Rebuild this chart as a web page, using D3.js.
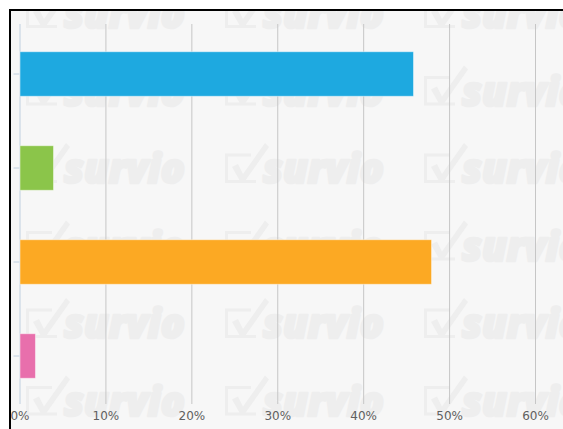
<!DOCTYPE html>
<html>
<head>
<meta charset="utf-8">
<script src="https://cdn.jsdelivr.net/npm/d3@7"></script>
<style>
  html, body { margin: 0; padding: 0; background: #fff; }
  svg { display: block; }
</style>
</head>
<body>
<div id="chart"></div>
<script>
// Answer options and their share of responses (%)
const categories = ["Option 1", "Option 2", "Option 3", "Option 4"];
const shares = [45.8, 3.9, 47.9, 1.8];
const barColors = ["#1ea9e0", "#8bc54a", "#fca923", "#e86fac"];
const tickValues = [0, 10, 20, 30, 40, 50, 60];

const W = 563, H = 429;
const svg = d3.select("#chart").append("svg")
  .attr("width", W).attr("height", H);

// Framed panel
svg.append("defs").append("clipPath").attr("id", "panel")
  .append("rect").attr("x", 11).attr("y", 11).attr("width", W - 11).attr("height", H - 11);

svg.append("rect").attr("x", 10).attr("y", 10).attr("width", W).attr("height", H)
  .attr("fill", "#f7f7f7").attr("stroke", "#000").attr("stroke-width", 2);

// Repeating brand watermark
const wmColor = "#eeeeee";
const wm = svg.append("g").attr("clip-path", "url(#panel)");
const wmCols = [0, 1, 2];
const wmRows = [-2, -1, 0, 1, 2, 3];
wmRows.forEach(r => {
  wmCols.forEach(c => {
    const ox = 26 + c * 199, oy = 183 + r * 77.5;
    const g = wm.append("g").attr("transform", `translate(${ox},${oy})`);
    g.append("path")
      .attr("d", "M26,-28 L1.5,-28 L1.5,-1.5 L31,-1.5")
      .attr("fill", "none").attr("stroke", wmColor).attr("stroke-width", 3);
    g.append("path")
      .attr("d", "M7,-16 L13,-19 L18,-9 L40,-40 L44,-36 L20,-2 L15,-2 Z")
      .attr("fill", wmColor);
    g.append("text")
      .attr("x", 38).attr("y", 0)
      .attr("font-family", "'Open Sans', sans-serif")
      .attr("font-weight", 800).attr("font-style", "italic")
      .attr("font-size", 40)
      .attr("textLength", 121).attr("lengthAdjust", "spacingAndGlyphs")
      .attr("fill", wmColor)
      .attr("stroke", wmColor).attr("stroke-width", 2.5)
      .attr("stroke-linejoin", "round")
      .text("survio");
  });
});

// Scales
const x = d3.scaleLinear().domain([0, 60]).range([19.5, 535]);
const y = d3.scaleBand().domain(categories).range([27, 403])
  .paddingInner(0.526).paddingOuter(0.263);

const plotTop = 24, plotBottom = 404;

// Vertical grid lines with percentage labels
const xAxis = svg.append("g").attr("transform", `translate(0,${plotBottom})`)
  .call(d3.axisBottom(x).tickValues(tickValues)
    .tickSize(-(plotBottom - plotTop)).tickSizeOuter(0).tickPadding(7)
    .tickFormat(d => d + "%"));
xAxis.select(".domain").remove();
xAxis.selectAll(".tick line")
  .attr("stroke", d => d === 0 ? "#c0d0e0" : "#c6c6c6")
  .attr("stroke-width", 1);
xAxis.selectAll(".tick text")
  .attr("fill", "#606060")
  .attr("font-family", "'DejaVu Sans', sans-serif")
  .attr("font-size", 12);

// Category axis: tick marks only
const yAxis = svg.append("g").attr("transform", `translate(${x(0)},0)`)
  .call(d3.axisLeft(y).tickSize(6).tickFormat(""));
yAxis.select(".domain").remove();
yAxis.selectAll(".tick line").attr("stroke", "#c0d0e0");

// Bars
svg.append("g").selectAll("rect")
  .data(categories)
  .join("rect")
  .attr("x", x(0) + 0.5)
  .attr("y", d => y(d))
  .attr("width", (d, i) => x(shares[i]) - x(0))
  .attr("height", y.bandwidth())
  .attr("fill", (d, i) => barColors[i])
  .attr("stroke", "rgba(255,255,255,0.45)")
  .attr("stroke-width", 1);
</script>
</body>
</html>
